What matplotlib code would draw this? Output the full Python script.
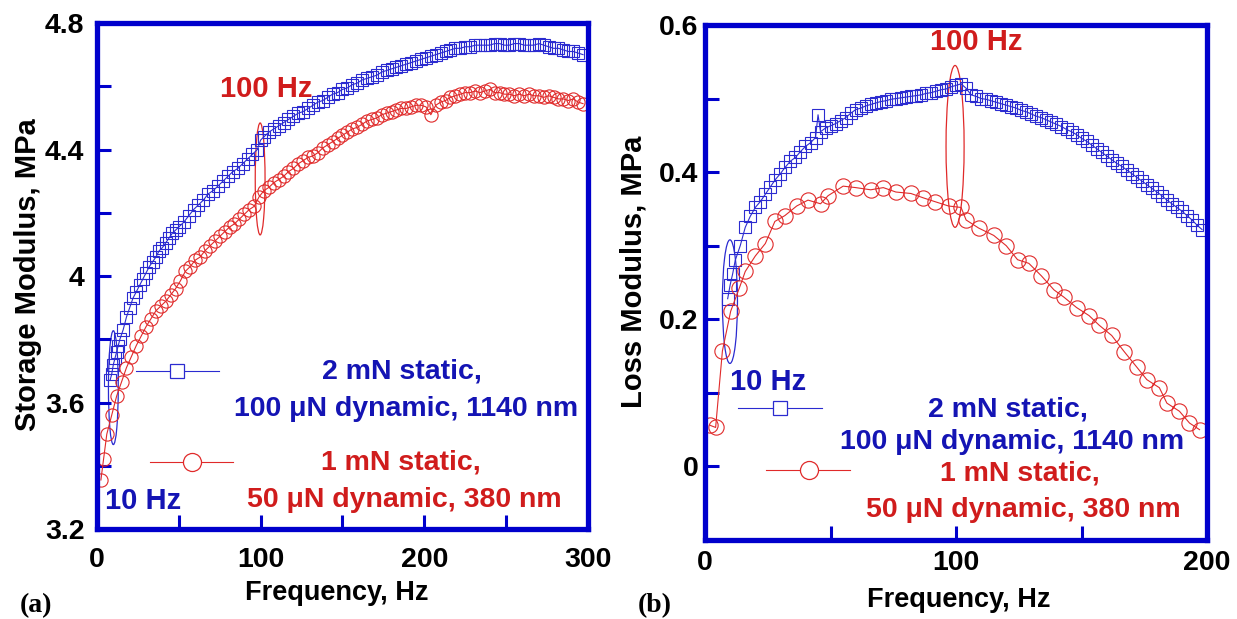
import matplotlib
matplotlib.use("Agg")
import matplotlib.pyplot as plt
from matplotlib.patches import Ellipse
from matplotlib.lines import Line2D
from matplotlib.ticker import MultipleLocator, FuncFormatter

# (a) storage modulus, 2 mN static / 100 uN dynamic (squares)
f_store_2mN = [8, 9, 10, 11, 12, 13, 14, 16, 18, 20, 22, 24, 26, 28, 30, 32, 34, 36, 38, 40,
               42, 44, 46, 48, 50, 53, 56, 59, 62, 65, 68, 71, 74, 77, 80, 83, 86, 89, 92, 95,
               98, 100, 102, 105, 108, 111, 114, 117, 120, 123, 126, 129, 132, 135, 138, 141,
               144, 147, 150, 153, 156, 159, 162, 165, 168, 171, 174, 177, 180, 183, 186, 189,
               192, 195, 198, 201, 204, 207, 210, 213, 216, 219, 222, 225, 228, 231, 234, 237,
               240, 243, 246, 249, 252, 255, 258, 261, 264, 267, 270, 273, 276, 279, 282, 285,
               288, 291, 294, 297]
E_store_2mN = [3.67, 3.69, 3.72, 3.74, 3.76, 3.78, 3.80, 3.83, 3.87, 3.90, 3.93, 3.95, 3.97, 3.99,
               4.01, 4.03, 4.045, 4.06, 4.08, 4.09, 4.105, 4.12, 4.135, 4.145, 4.155, 4.17, 4.19,
               4.21, 4.225, 4.24, 4.26, 4.27, 4.285, 4.30, 4.315, 4.33, 4.34, 4.355, 4.37, 4.385,
               4.40, 4.43, 4.44, 4.455, 4.465, 4.475, 4.485, 4.495, 4.505, 4.515, 4.52, 4.53,
               4.54, 4.55, 4.555, 4.565, 4.575, 4.58, 4.59, 4.595, 4.605, 4.61, 4.62, 4.625, 4.63,
               4.635, 4.645, 4.65, 4.655, 4.66, 4.665, 4.67, 4.675, 4.68, 4.685, 4.69, 4.695, 4.70,
               4.705, 4.71, 4.715, 4.72, 4.72, 4.725, 4.725, 4.73, 4.73, 4.73, 4.73, 4.735, 4.735,
               4.73, 4.73, 4.735, 4.735, 4.73, 4.73, 4.73, 4.735, 4.73, 4.725, 4.72, 4.72, 4.715,
               4.71, 4.71, 4.705, 4.70]

# (a) storage modulus, 1 mN static / 50 uN dynamic (circles)
f_store_1mN = [2.4, 4, 6, 9, 12, 15, 18, 21, 24, 27, 30, 33, 36, 39, 42, 45, 48, 51, 54, 57, 60,
               63, 66, 69, 72, 75, 78, 81, 84, 87, 90, 93, 96, 99, 102, 105, 108, 111, 114, 117,
               120, 123, 126, 129, 132, 135, 138, 141, 144, 147, 150, 153, 156, 159, 162, 165,
               168, 171, 174, 177, 180, 183, 186, 189, 192, 195, 198, 201, 204, 207, 210, 213,
               216, 219, 222, 225, 228, 231, 234, 237, 240, 243, 246, 249, 252, 255, 258, 261,
               264, 267, 270, 273, 276, 279, 282, 285, 288, 291, 294, 297]
E_store_1mN = [3.355, 3.42, 3.50, 3.56, 3.62, 3.665, 3.71, 3.745, 3.78, 3.81, 3.84, 3.865, 3.89,
               3.905, 3.92, 3.94, 3.96, 3.985, 4.015, 4.03, 4.05, 4.06, 4.08, 4.095, 4.11, 4.125,
               4.14, 4.155, 4.165, 4.18, 4.195, 4.21, 4.22, 4.25, 4.27, 4.28, 4.295, 4.305, 4.315,
               4.33, 4.34, 4.355, 4.365, 4.375, 4.38, 4.39, 4.405, 4.415, 4.425, 4.435, 4.445,
               4.455, 4.465, 4.47, 4.48, 4.49, 4.495, 4.50, 4.51, 4.515, 4.52, 4.525, 4.53, 4.53,
               4.535, 4.54, 4.54, 4.535, 4.51, 4.54, 4.55, 4.555, 4.565, 4.57, 4.575, 4.58, 4.58,
               4.585, 4.58, 4.585, 4.59, 4.58, 4.58, 4.575, 4.575, 4.57, 4.575, 4.57, 4.575, 4.57,
               4.57, 4.565, 4.57, 4.565, 4.56, 4.56, 4.555, 4.56, 4.55, 4.545]

# (b) loss modulus, 2 mN static (squares)
f_loss_2mN = [9, 10, 11, 12, 14, 16, 18, 20, 22, 24, 26, 28, 30, 32, 34, 36, 38, 40, 42, 44, 45,
              46, 48, 50, 52, 54, 56, 58, 60, 62, 64, 66, 68, 70, 72, 74, 76, 78, 80, 82, 84, 86,
              88, 90, 92, 94, 96, 98, 100, 102, 104, 106, 108, 110, 112, 114, 116, 118, 120, 122,
              124, 126, 128, 130, 132, 134, 136, 138, 140, 142, 144, 146, 148, 150, 152, 154,
              156, 158, 160, 162, 164, 166, 168, 170, 172, 174, 176, 178, 180, 182, 184, 186,
              188, 190, 192, 194, 196, 198]
E_loss_2mN = [0.228, 0.247, 0.262, 0.28, 0.30, 0.325, 0.34, 0.352, 0.36, 0.37, 0.38, 0.39, 0.398,
              0.407, 0.415, 0.42, 0.428, 0.435, 0.44, 0.447, 0.478, 0.455, 0.46, 0.463, 0.466,
              0.47, 0.474, 0.48, 0.485, 0.487, 0.49, 0.492, 0.494, 0.496, 0.497, 0.499, 0.50,
              0.501, 0.502, 0.503, 0.504, 0.505, 0.507, 0.508, 0.51, 0.512, 0.513, 0.516, 0.518,
              0.52, 0.514, 0.505, 0.503, 0.50, 0.499, 0.497, 0.495, 0.493, 0.491, 0.489, 0.487,
              0.484, 0.482, 0.479, 0.476, 0.474, 0.471, 0.468, 0.465, 0.462, 0.458, 0.455, 0.451,
              0.446, 0.442, 0.437, 0.432, 0.427, 0.422, 0.417, 0.412, 0.408, 0.403, 0.398, 0.393,
              0.388, 0.383, 0.378, 0.373, 0.368, 0.362, 0.357, 0.352, 0.347, 0.341, 0.335, 0.328,
              0.322]

# (b) loss modulus, 1 mN static (circles)
f_loss_1mN = [1.9, 4.2, 6.9, 10.2, 13.7, 16, 20, 24, 27.8, 31.8, 36.5, 41, 46, 49, 55, 60, 66,
              71, 76, 82, 87, 91.5, 97, 102, 104, 109, 115, 120, 124.5, 129, 134, 139, 143, 148,
              153, 157, 162, 167, 172, 176, 181, 184, 189, 193, 197]
E_loss_1mN = [0.056, 0.053, 0.157, 0.211, 0.243, 0.265, 0.286, 0.303, 0.333, 0.341, 0.354, 0.362,
              0.357, 0.368, 0.381, 0.379, 0.376, 0.379, 0.373, 0.371, 0.365, 0.36, 0.354, 0.352,
              0.335, 0.324, 0.314, 0.30, 0.281, 0.276, 0.259, 0.24, 0.23, 0.216, 0.205, 0.192,
              0.178, 0.156, 0.135, 0.118, 0.107, 0.086, 0.075, 0.059, 0.05]

label_blue = ["2 mN static,", "100 \u03bcN dynamic, 1140 nm"]
label_red = ["1 mN static,", "50 \u03bcN dynamic, 380 nm"]

SPINE = "#0000cc"
BLUE = "#2b2bd0"
RED = "#e02a2a"
TBLUE = "#1414b4"
TRED = "#d01c1c"
FONT = "Liberation Sans"

fig = plt.figure(figsize=(12.37, 6.19), dpi=100)
axa = fig.add_axes([0.0784, 0.1454, 0.3969, 0.8174])
axb = fig.add_axes([0.570, 0.1276, 0.4058, 0.832])

fmt = FuncFormatter(lambda v, p: "%g" % round(v, 3))


def style(ax, xmaj, ymaj, xpad, ypad):
    for s in ax.spines.values():
        s.set_color(SPINE)
        s.set_linewidth(3.8)
    ax.xaxis.set_major_locator(MultipleLocator(xmaj))
    ax.xaxis.set_minor_locator(MultipleLocator(xmaj / 2))
    ax.yaxis.set_major_locator(MultipleLocator(ymaj))
    ax.yaxis.set_minor_locator(MultipleLocator(ymaj / 2))
    ax.xaxis.set_major_formatter(fmt)
    ax.yaxis.set_major_formatter(fmt)
    ax.tick_params(which="both", direction="in", length=10, width=2.2, color=SPINE,
                   top=False, right=False)
    ax.tick_params(axis="x", pad=xpad)
    ax.tick_params(axis="y", pad=ypad)
    for lab in ax.get_xticklabels() + ax.get_yticklabels():
        lab.set_fontfamily(FONT)
        lab.set_fontweight("bold")
        lab.set_fontsize(20.5)


def series(ax, f2, e2, f1, e1, sq, ci):
    ax.plot(f2, e2, color=BLUE, lw=0.8, marker="s", ms=sq, mfc="none", mec=BLUE, mew=0.8)
    ax.plot(f1, e1, color=RED, lw=0.8, marker="o", ms=ci, mfc="none", mec=RED, mew=0.8)


def legend(ax, bline, bmark, by, rline, rmark, ry, tx, ty):
    ax.add_line(Line2D(bline, [by, by], color=BLUE, lw=0.8, transform=ax.transAxes))
    ax.add_line(Line2D([bmark], [by], color=BLUE, marker="s", ms=10, mfc="white",
                       mec=BLUE, mew=0.9, transform=ax.transAxes))
    ax.add_line(Line2D(rline, [ry, ry], color=RED, lw=0.8, transform=ax.transAxes))
    ax.add_line(Line2D([rmark], [ry], color=RED, marker="o", ms=13, mfc="white",
                       mec=RED, mew=0.9, transform=ax.transAxes))
    labels = label_blue + label_red
    cols = [TBLUE, TBLUE, TRED, TRED]
    for s, c, x, y in zip(labels, cols, tx, ty):
        ax.text(x, y, s, transform=ax.transAxes, ha="center", va="center", color=c,
                fontsize=20.5, fontweight="bold", fontfamily=FONT)


# ---- (a) ----
axa.set_xlim(0, 300)
axa.set_ylim(3.2, 4.8)
series(axa, f_store_2mN, E_store_2mN, f_store_1mN, E_store_1mN, 8, 9.5)
style(axa, 100, 0.4, 13, 9)
axa.add_patch(Ellipse((10, 3.647), 6, 0.36, fill=False, ec=BLUE, lw=0.9))
axa.add_patch(Ellipse((99.7, 4.307), 6, 0.354, fill=False, ec=RED, lw=0.9))
axa.text(103.5, 4.59, "100 Hz", color=TRED, fontsize=21, fontweight="bold", fontfamily=FONT,
         ha="center", va="center")
axa.text(28, 3.29, "10 Hz", color=TBLUE, fontsize=21, fontweight="bold", fontfamily=FONT,
         ha="center", va="center")
legend(axa, [0.079, 0.249], 0.163, 0.312, [0.108, 0.277], 0.193, 0.132,
       [0.621, 0.629, 0.619, 0.625], [0.312, 0.237, 0.132, 0.057])

# ---- (b) ----
axb.set_xlim(0, 200)
axb.set_ylim(-0.1, 0.6)
series(axb, f_loss_2mN, E_loss_2mN, f_loss_1mN, E_loss_1mN, 8.5, 11)
style(axb, 100, 0.2, 7, 5)
axb.add_patch(Ellipse((9.9, 0.224), 6, 0.168, fill=False, ec=BLUE, lw=0.9))
axb.add_patch(Ellipse((99.6, 0.435), 7.2, 0.22, fill=False, ec=RED, lw=0.9))
axb.text(108, 0.577, "100 Hz", color=TRED, fontsize=21, fontweight="bold", fontfamily=FONT,
         ha="center", va="center")
axb.text(25, 0.115, "10 Hz", color=TBLUE, fontsize=21, fontweight="bold", fontfamily=FONT,
         ha="center", va="center")
legend(axb, [0.066, 0.233], 0.149, 0.256, [0.1215, 0.289], 0.207, 0.136,
       [0.604, 0.612, 0.627, 0.633], [0.254, 0.190, 0.130, 0.058])

# axis titles and panel letters
W, H = 1237.0, 619.0
fig.text(28 / W, 1 - 275 / H, "Storage Modulus, MPa", rotation=90, ha="center", va="center",
         fontsize=21, fontweight="bold", fontfamily=FONT)
fig.text(634 / W, 1 - 272 / H, "Loss Modulus, MPa", rotation=90, ha="center", va="center",
         fontsize=21, fontweight="bold", fontfamily=FONT)
fig.text(337 / W, 1 - 593 / H, "Frequency, Hz", ha="center", va="center",
         fontsize=19.5, fontweight="bold", fontfamily=FONT)
fig.text(959 / W, 1 - 600 / H, "Frequency, Hz", ha="center", va="center",
         fontsize=19.5, fontweight="bold", fontfamily=FONT)
fig.text(36 / W, 1 - 606 / H, "(a)", ha="center", va="center",
         fontsize=20, fontweight="bold", fontfamily="Liberation Serif")
fig.text(655 / W, 1 - 606 / H, "(b)", ha="center", va="center",
         fontsize=20, fontweight="bold", fontfamily="Liberation Serif")

fig.savefig("out.png", dpi=100)
